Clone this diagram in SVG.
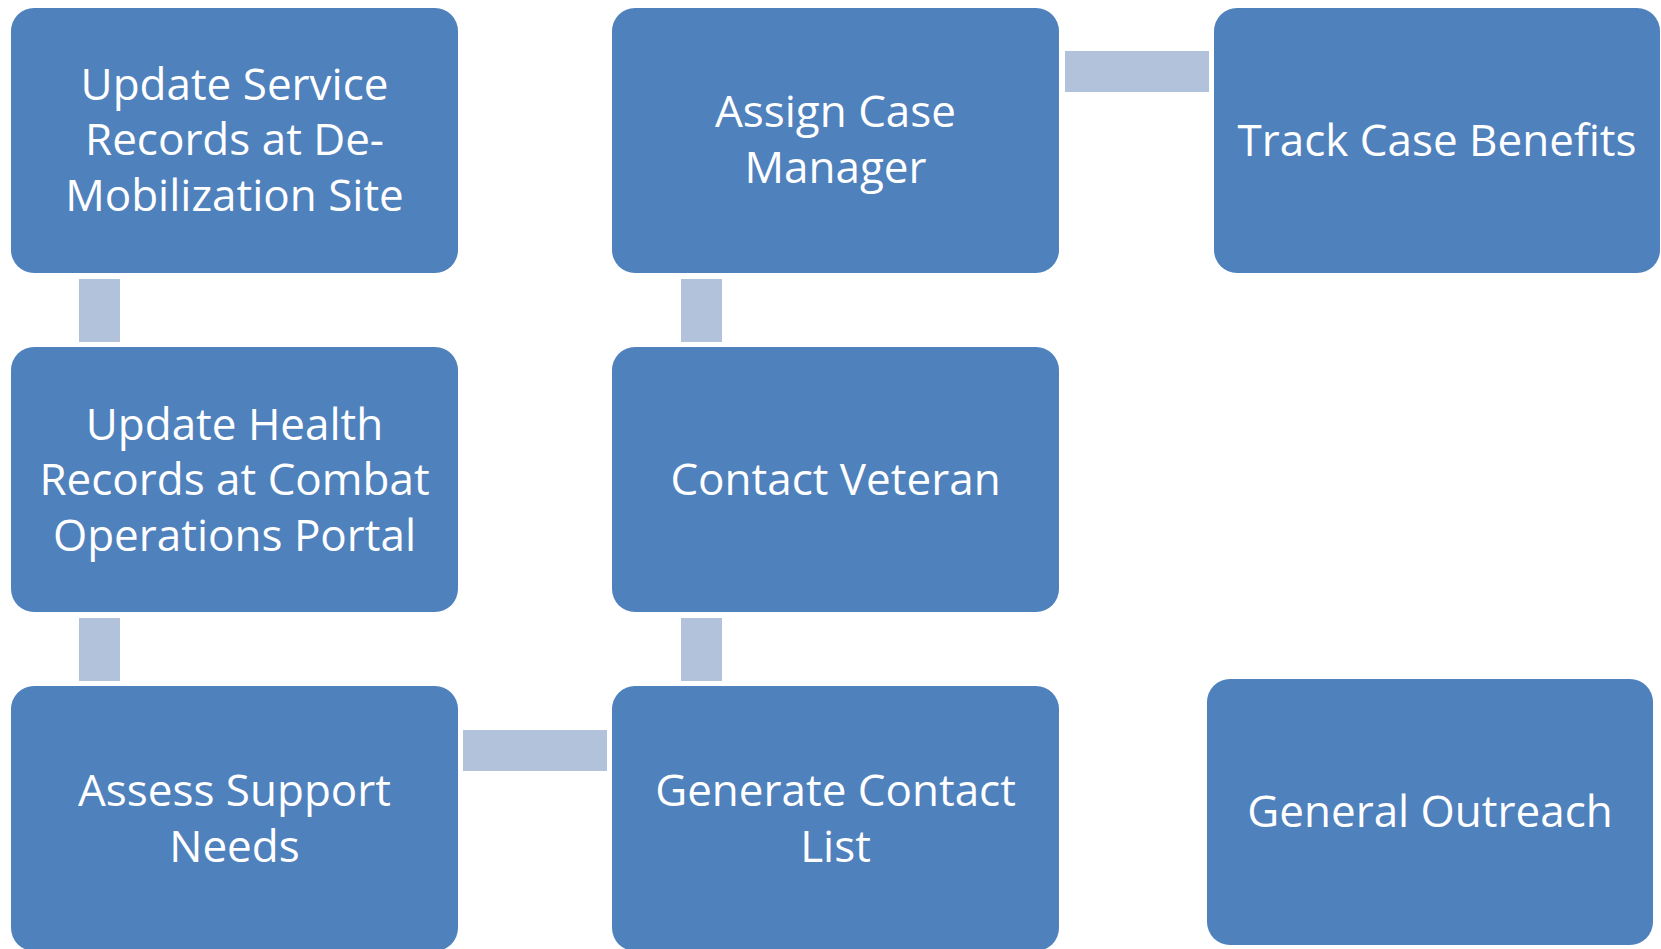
<svg xmlns="http://www.w3.org/2000/svg" width="1661" height="949" viewBox="0 0 1661 949">
<style>
.box{fill:#4F81BD;}
.con{fill:#B3C2DB;}
.lbl{font-family:"Open Sans","Noto Sans","Liberation Sans",sans-serif;font-size:44px;fill:#FFFFFF;text-anchor:middle;}
</style>
<rect width="1661" height="949" fill="#FFFFFF"/>
<g id="connectors">
<rect class="con" x="79" y="279" width="41" height="63"/>
<rect class="con" x="79" y="618" width="41" height="63"/>
<rect class="con" x="463" y="730" width="144" height="41"/>
<rect class="con" x="681" y="618" width="41" height="63"/>
<rect class="con" x="681" y="279" width="41" height="63"/>
<rect class="con" x="1065" y="51" width="144" height="41"/>
</g>
<g id="node-update-service">
<rect class="box" x="11" y="8" width="447" height="265" rx="23"/>
<text class="lbl" x="234.5"><tspan x="234.5" y="99.5">Update Service</tspan><tspan x="234.5" y="155">Records at De-</tspan><tspan x="234.5" y="210.5">Mobilization Site</tspan></text>
</g>
<g id="node-update-health">
<rect class="box" x="11" y="347" width="447" height="265" rx="23"/>
<text class="lbl"><tspan x="234.5" y="439.5">Update Health</tspan><tspan x="234.5" y="495">Records at Combat</tspan><tspan x="234.5" y="550.5">Operations Portal</tspan></text>
</g>
<g id="node-assess-support">
<rect class="box" x="11" y="686" width="447" height="265" rx="23"/>
<text class="lbl"><tspan x="234.5" y="806">Assess Support</tspan><tspan x="234.5" y="861.5">Needs</tspan></text>
</g>
<g id="node-generate-contact">
<rect class="box" x="612" y="686" width="447" height="265" rx="23"/>
<text class="lbl"><tspan x="835.5" y="806">Generate Contact</tspan><tspan x="835.5" y="861.5">List</tspan></text>
</g>
<g id="node-contact-veteran">
<rect class="box" x="612" y="347" width="447" height="265" rx="23"/>
<text class="lbl" x="835.5" y="495">Contact Veteran</text>
</g>
<g id="node-assign-case">
<rect class="box" x="612" y="8" width="447" height="265" rx="23"/>
<text class="lbl"><tspan x="835.5" y="127">Assign Case</tspan><tspan x="835.5" y="182.5">Manager</tspan></text>
</g>
<g id="node-track-case">
<rect class="box" x="1214" y="8" width="446" height="265" rx="23"/>
<text class="lbl" x="1437" y="156">Track Case Benefits</text>
</g>
<g id="node-general-outreach">
<rect class="box" x="1207" y="679" width="446" height="266" rx="23"/>
<text class="lbl" x="1430" y="827">General Outreach</text>
</g>
</svg>
